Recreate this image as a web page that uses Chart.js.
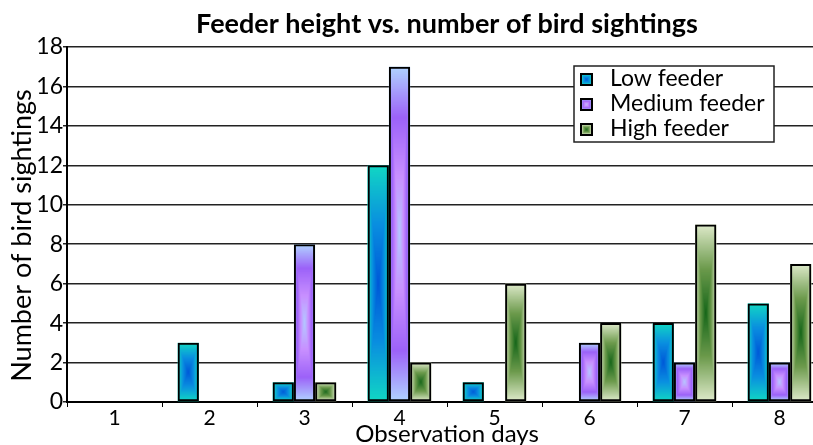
<!DOCTYPE html>
<html>
<head>
<meta charset="utf-8">
<script src="https://cdn.jsdelivr.net/npm/chart.js@4/dist/chart.umd.min.js"></script>
<style>
  html, body { margin: 0; padding: 0; overflow: hidden; background: #fff; }
  #wrap { width: 813px; height: 445px; overflow: hidden; }
</style>
</head>
<body>
<div id="wrap"><canvas id="chart" width="827" height="445"></canvas></div>
<script>
// ---- data ----
const days = ["1", "2", "3", "4", "5", "6", "7", "8"];
const lowFeeder = [0, 3, 1, 12, 1, 0, 4, 5];
const mediumFeeder = [0, 0, 8, 17, 0, 3, 2, 2];
const highFeeder = [0, 0, 1, 2, 6, 4, 9, 7];
const seriesNames = ["Low feeder", "Medium feeder", "High feeder"];
const yTitle = "Number of bird sightings";

const FONT = "Lato, 'Open Sans', sans-serif";

// box gradient stops: t = 0 centre, t = 1 edge
const STOPS = [
    [[0, "#0058d8"], [0.5, "#0a8ee0"], [1, "#12d6c4"]],
    [[0, "#b4c8ff"], [0.35, "#c890ff"], [0.7, "#9c62f8"], [1, "#b0d2ff"]],
    [[0, "#16661a"], [0.5, "#6c9a4c"], [1, "#dde9c9"]]
];

function hex(c) {
    return [1, 3, 5].map(i => parseInt(c.slice(i, i + 2), 16));
}

function colorAt(stops, t) {
    for (let i = 1; i < stops.length; i++) {
        if (t <= stops[i][0]) {
            const [t0, c0] = stops[i - 1];
            const [t1, c1] = stops[i];
            const f = (t - t0) / (t1 - t0);
            const a = hex(c0), b = hex(c1);
            return `rgb(${a.map((v, k) => Math.round(v + (b[k] - v) * f)).join(",")})`;
        }
    }
    return stops[stops.length - 1][1];
}

// concentric rectangles -> box ("pyramid") gradient
function boxFill(ctx, x0, y0, x1, y1, stops) {
    const w = x1 - x0, h = y1 - y0;
    const n = Math.max(8, Math.ceil(Math.max(w, h) / 2));
    for (let i = 0; i < n; i++) {
        const f = i / n;
        const ix = (w / 2) * f, iy = (h / 2) * f;
        ctx.fillStyle = colorAt(stops, 1 - f);
        ctx.fillRect(x0 + ix, y0 + iy, w - 2 * ix, h - 2 * iy);
    }
}

// =========================
// BAR GRADIENT FILLS
// =========================
const gradientBars = {
    id: "gradientBars",
    beforeDatasetsDraw(chart) {
        const ctx = chart.ctx;
        ctx.save();
        chart.data.datasets.forEach((ds, di) => {
            chart.getDatasetMeta(di).data.forEach((bar, i) => {
                if (!ds.data[i]) return;
                const { x, y, base, width } = bar.getProps(["x", "y", "base", "width"], true);
                boxFill(ctx, x - width / 2, Math.min(y, base), x + width / 2, Math.max(y, base), STOPS[di]);
            });
        });
        ctx.restore();
    }
};

// =========================
// LEGEND BOX + Y TITLE
// =========================
const legendBox = {
    id: "legendBox",
    afterDraw(chart) {
        const ctx = chart.ctx;
        const area = chart.chartArea;
        const right = area.right - 53;
        const left = right - 200;
        const top = area.top + 19;
        const rowH = 25;
        ctx.save();
        ctx.fillStyle = "#fff";
        ctx.fillRect(left, top, 200, 76);
        ctx.strokeStyle = "#222";
        ctx.lineWidth = 1.5;
        ctx.strokeRect(left, top, 200, 76);
        ctx.font = `23px ${FONT}`;
        ctx.textBaseline = "middle";
        chart.data.datasets.forEach((ds, di) => {
            const cy = top + 13 + di * rowH;
            boxFill(ctx, left + 7, cy - 5, left + 18, cy + 6, STOPS[di]);
            ctx.strokeStyle = "#000";
            ctx.lineWidth = 2;
            ctx.strokeRect(left + 7, cy - 5, 11, 11);
            ctx.fillStyle = "#000";
            ctx.fillText(ds.label, left + 36, cy);
        });

        // y axis title, overlapping the tick labels like the original
        ctx.translate(22, (area.top + area.bottom) / 2 + 11);
        ctx.rotate(-Math.PI / 2);
        ctx.font = `27px ${FONT}`;
        ctx.textAlign = "center";
        ctx.fillText(yTitle, 0, 0);
        ctx.restore();
    }
};

const zeroBorder = c => (c.raw ? 2 : 0);

new Chart(document.getElementById("chart"), {
    type: "bar",
    data: {
        labels: days,
        datasets: [lowFeeder, mediumFeeder, highFeeder].map((vals, i) => ({
            label: seriesNames[i],
            data: vals,
            backgroundColor: "rgba(0,0,0,0)",
            borderColor: "#000",
            borderWidth: zeroBorder,
            borderSkipped: false,
            categoryPercentage: 0.67,
            barPercentage: 1.0
        }))
    },
    options: {
        responsive: false,
        animation: false,
        layout: { padding: 0 },
        plugins: {
            legend: { display: false },
            tooltip: { enabled: false },
            title: {
                display: true,
                fullSize: false,
                text: "Feeder height vs. number of bird sightings",
                color: "#000",
                font: { family: FONT, size: 27, weight: "bold" },
                padding: { top: 8, bottom: 6.6 }
            }
        },
        scales: {
            x: {
                offset: true,
                grid: { drawOnChartArea: false, color: "#000", tickLength: 5, offset: true },
                border: { color: "#000", width: 2 },
                ticks: { color: "#000", font: { family: FONT, size: 21 }, padding: -1 },
                title: {
                    display: true,
                    text: "Observation days",
                    color: "#000",
                    font: { family: FONT, size: 24 },
                    padding: { top: 0, bottom: -4 }
                },
                afterFit(scale) { scale.height = 43; }
            },
            y: {
                min: 0,
                max: 18,
                ticks: { stepSize: 2, color: "#000", font: { family: FONT, size: 23 }, padding: 0 },
                grid: { color: "#222", lineWidth: 1.5, tickLength: 4 },
                border: { color: "#000", width: 2 },
                afterFit(scale) { scale.width = 67; }
            }
        }
    },
    plugins: [gradientBars, legendBox]
});
</script>
</body>
</html>
